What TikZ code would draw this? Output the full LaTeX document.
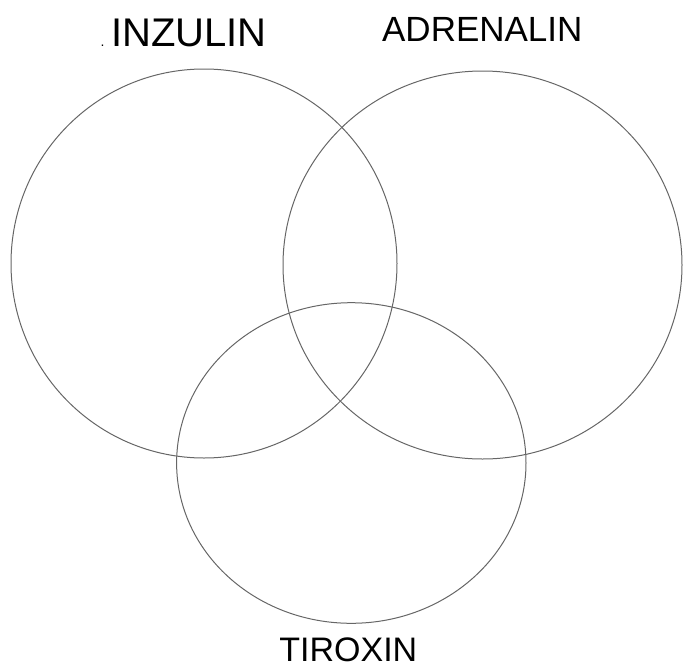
\documentclass[tikz,border=0pt]{standalone}
\usepackage{fontspec}
\setmainfont{Liberation Sans}
\usepackage{tikz}

\begin{document}
\begin{tikzpicture}[
  x=1pt,y=-1pt,
  ring/.style={draw=black!60,line width=1pt},
  hormone/.style={inner sep=0pt,anchor=base}]
\path[use as bounding box] (0,0) rectangle (683,667);
% the three sets
\draw[ring] (204,263.5) ellipse [x radius=193,y radius=194.5];
\draw[ring] (482.5,265) ellipse [x radius=199.5,y radius=194];
\draw[ring] (351.3,463) ellipse [x radius=174.7,y radius=160.3];
% names
\node[hormone,anchor=base east,font=\fontsize{40}{40}\selectfont] (inzulin) at (267,46.7) {{\fontsize{14}{14}\selectfont.}\,INZULIN};
\node[hormone,font=\fontsize{35}{35}\selectfont] (adrenalin) at (482.3,41.7) {ADRENALIN};
\node[hormone,font=\fontsize{34}{34}\selectfont] (tiroxin) at (348.3,661.5) {TIROXIN};
\end{tikzpicture}
\end{document}
